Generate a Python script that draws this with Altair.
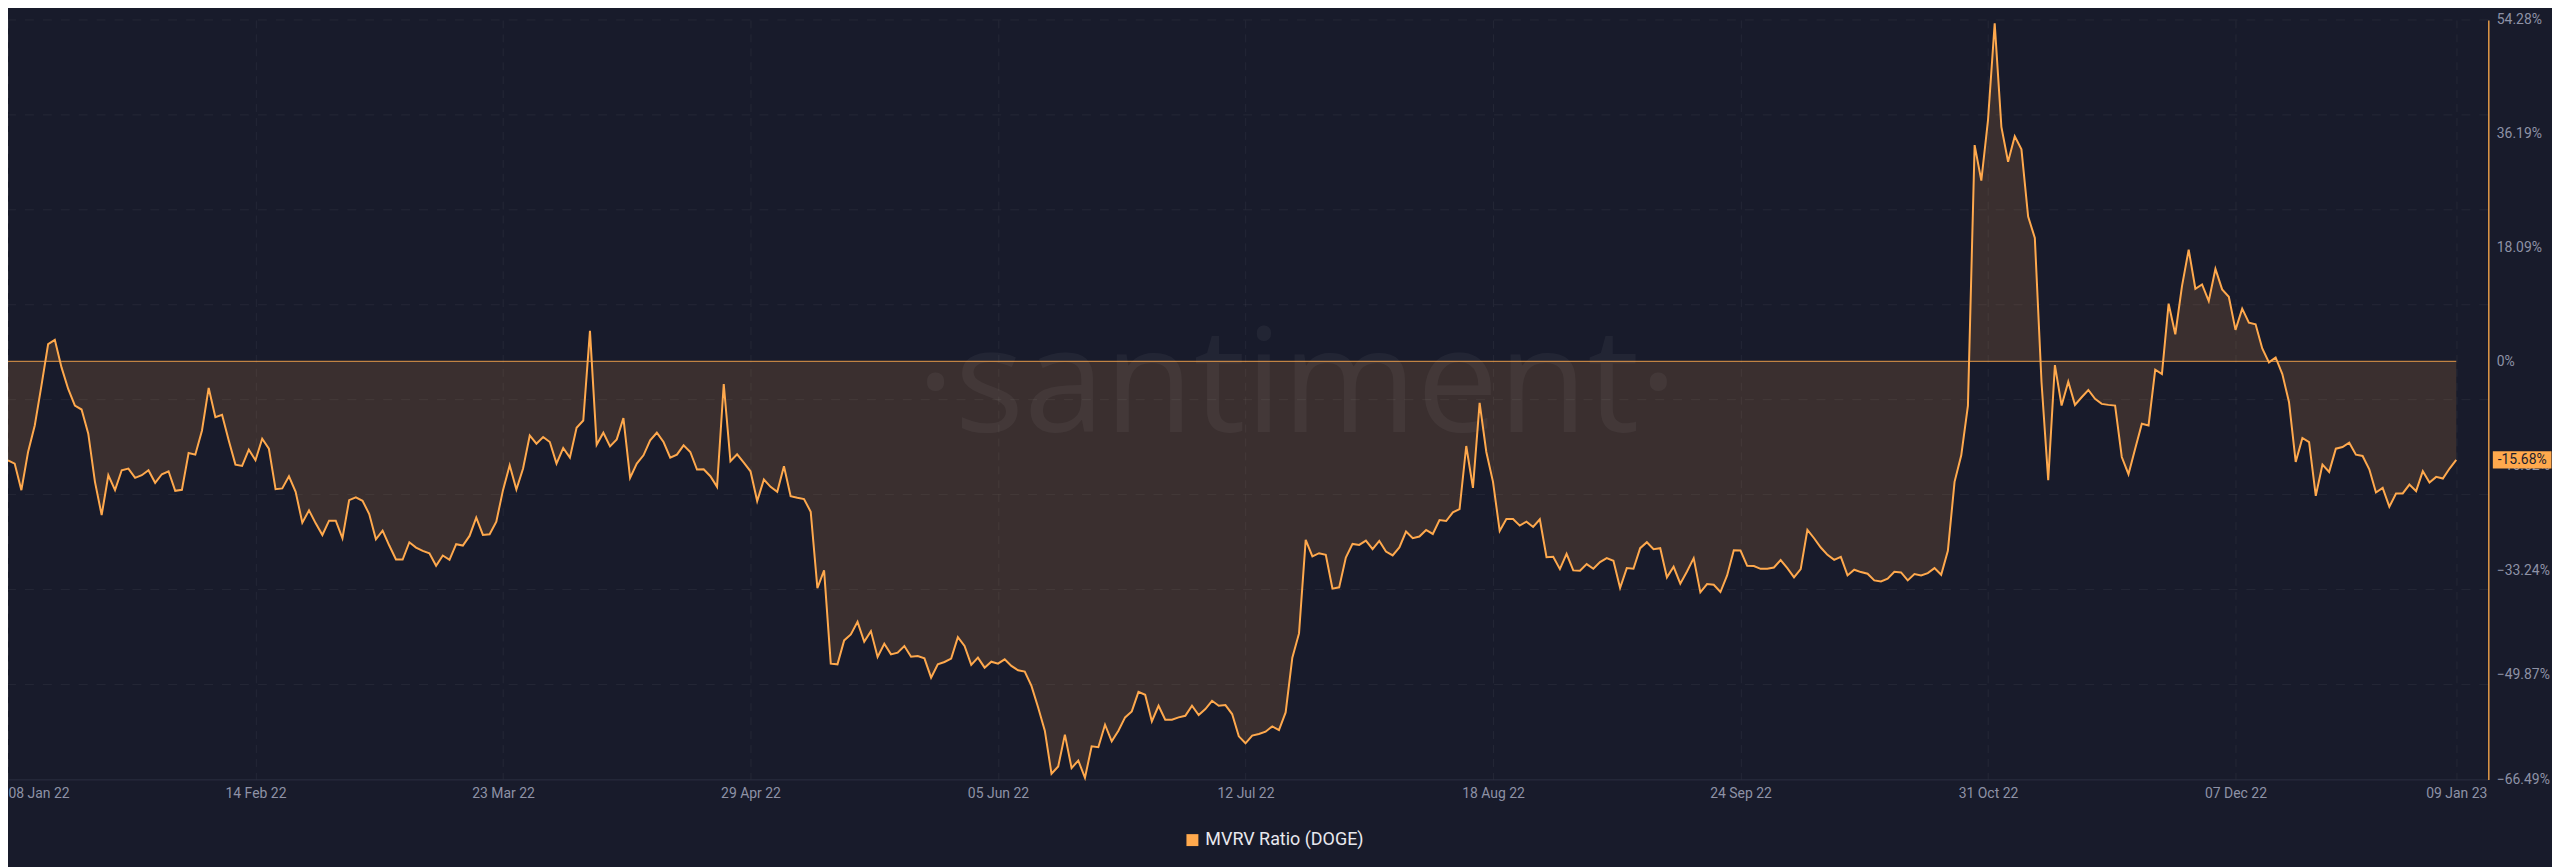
import altair as alt
import pandas as pd

# ---------------- data (daily values, %) ----------------
start_date = "2022-01-08"

jan_mar = [  # 08 Jan 22 .. 23 Mar 22
    -15.74, -16.27, -20.49, -14.42, -10.2, -3.87, 2.72, 3.41, -0.97, -4.4,
    -7.04, -7.67, -11.52, -19.17, -24.45, -18.12, -20.49, -17.33, -17.06, -18.54,
    -18.12, -17.33, -19.33, -17.96, -17.49, -20.6, -20.44, -14.58, -14.85, -11.0,
    -4.24, -8.89, -8.52, -12.58, -16.43, -16.64, -14.06, -15.74, -12.31, -13.9,
    -20.33, -20.22, -18.28, -20.76, -25.66, -23.71, -25.77, -27.62, -25.34, -25.34,
    -28.14, -22.08, -21.65, -22.18, -24.29, -28.3, -26.93, -29.3, -31.52, -31.52,
    -28.78, -29.62, -30.15, -30.52, -32.52, -30.89, -31.57, -29.09, -29.3, -27.77,
    -24.87, -27.62, -27.51, -25.5, -20.49,
]
mar_jun = [  # 24 Mar 22 .. 09 Jun 22
    -16.53, -20.39, -17.06, -11.79, -13.11, -12.05, -12.84, -16.27, -13.79, -15.32,
    -10.57, -9.41, 4.83, -13.26, -11.36, -13.53, -12.42, -9.04, -18.53, -16.27,
    -14.95, -12.58, -11.36, -12.84, -15.32, -14.85, -13.37, -14.42, -17.22, -17.17,
    -18.28, -19.96, -3.61, -15.9, -14.79, -16.11, -17.49, -22.23, -18.8, -19.96,
    -20.75, -16.69, -21.44, -21.7, -21.92, -23.92, -36.06, -33.25, -48.09, -48.19,
    -44.39, -43.44, -41.44, -44.6, -42.91, -47.02, -44.92, -46.61, -46.34, -45.28,
    -46.98, -46.87, -47.24, -50.3, -48.19, -47.82, -47.29, -43.86, -45.28, -48.29,
    -47.13, -48.72, -47.77, -48.09, -47.4, -48.45, -49.14, -49.35,
]
jun_aug = [  # 10 Jun 22 .. 22 Aug 22
    -51.62, -55.05, -58.74, -65.6, -64.44, -59.37, -64.7, -63.49, -66.23, -61.22,
    -61.38, -57.79, -60.43, -58.74, -56.63, -55.68, -52.57, -53.04, -57.26, -54.78,
    -57.0, -57.0, -56.63, -56.37, -54.78, -56.26, -55.31, -53.99, -54.78, -54.67,
    -56.1, -59.64, -60.75, -59.53, -59.27, -58.9, -58.06, -58.64, -55.84, -47.13,
    -43.28, -28.41, -31.04, -30.52, -30.78, -36.16, -35.95, -31.2, -29.04, -29.2,
    -28.51, -29.88, -28.56, -30.25, -30.88, -29.61, -27.08, -28.14, -27.87, -26.82,
    -27.46, -25.24, -25.4, -24.03, -23.5, -13.47, -20.12, -6.62, -14.42, -19.17,
    -26.98, -25.08, -25.08, -26.13,
]
aug_oct = [  # 23 Aug 22 .. 28 Oct 22
    -25.5, -26.35, -25.13, -31.15, -31.1, -33.05, -30.62, -33.25, -33.3, -32.26,
    -33.0, -31.94, -31.31, -31.73, -36.06, -32.89, -33.0, -29.72, -28.77, -29.88,
    -29.72, -34.36, -32.68, -35.37, -33.42, -31.31, -36.74, -35.42, -35.53, -36.69,
    -34.05, -30.04, -30.1, -32.52, -32.57, -33.0, -33.0, -32.79, -31.62, -32.89,
    -34.36, -33.05, -26.82, -28.14, -29.62, -30.78, -31.57, -31.1, -34.05, -33.15,
    -33.52, -33.79, -34.84, -35.0, -34.58, -33.47, -33.58, -34.84, -33.84, -34.05,
    -33.68, -32.89, -33.95, -30.15, -19.17, -14.95, -7.04,
]
oct_jan = [  # 29 Oct 22 .. 09 Jan 23
    34.38, 28.73, 38.34, 53.74, 37.28, 31.74, 35.8, 33.7, 23.03, 19.61,
    -3.34, -18.91, -0.6, -7.04, -3.24, -6.93, -5.72, -4.56, -5.98, -6.77,
    -6.93, -7.04, -15.22, -17.96, -13.9, -9.94, -10.2, -1.34, -2.03, 9.16,
    4.3, 11.95, 17.76, 11.53, 12.22, 9.58, 14.7, 11.43, 10.27, 4.99,
    8.37, 6.15, 5.89, 2.04, -0.18, 0.61, -2.03, -6.51, -16.0, -12.2,
    -12.84, -21.39, -16.43, -17.59, -13.9, -13.63, -12.95, -14.85, -15.06, -17.17,
    -20.86, -20.12, -23.13, -21.02, -21.02, -19.6, -20.65, -17.48, -19.28, -18.38,
    -18.65, -17.06, -15.68,
]

y_tick_values = [54.28, 36.19, 18.09, 0, -16.62, -33.24, -49.87, -66.49]
y_grid_values = [54.28, 39.18, 24.09, 8.99, -6.10, -21.20, -36.30, -51.39]
x_tick_dates = [(2022, 1, 8), (2022, 2, 14), (2022, 3, 23), (2022, 4, 29), (2022, 6, 5),
                (2022, 7, 12), (2022, 8, 18), (2022, 9, 24), (2022, 10, 31),
                (2022, 12, 7), (2023, 1, 9)]
last_value = [-15.68]
last_label = ["-15.68%"]
series_name = ["MVRV Ratio (DOGE)"]
watermark = ["\u00b7santiment\u00b7"]

# ---------------- build table ----------------
values = jan_mar + mar_jun + jun_aug + aug_oct + oct_jan
dates = pd.date_range(start_date, periods=len(values), freq="D")
df = pd.DataFrame({"date": dates.strftime("%Y-%m-%dT00:00:00Z"), "mvrv": values})

ORANGE = "#ffa94d"
BG = "#181b2b"
LABEL = "#8e92a6"
FONT = "Roboto"
W, H = 2492, 763

xscale = alt.Scale(type="utc", domain=[
    alt.DateTime(year=2022, month=1, date=8, utc=True),
    alt.DateTime(year=2023, month=1, date=13, hours=19, utc=True)])
yscale = alt.Scale(domain=[-66.49, 54.28], nice=False, zero=False)

xaxis = alt.Axis(
    values=[alt.DateTime(year=y, month=m, date=d, utc=True) for (y, m, d) in x_tick_dates],
    labelExpr="utcFormat(datum.value, '%d %b %y')",
    labelColor=LABEL, labelFontSize=14, labelFont=FONT,
    labelPadding=7, ticks=False, domain=True, domainColor="#2b2f42", domainWidth=1,
    grid=True, gridColor="#ffffff", gridOpacity=0.06, gridDash=[8, 6], labelFlush=True,
    labelOverlap=False, title=None)
yaxis = alt.Axis(
    orient="right", values=y_tick_values,
    labelExpr="datum.value == 0 ? '0%' : format(datum.value, '.2f') + '%'",
    labelColor=LABEL, labelFontSize=14, labelFont=FONT, labelPadding=8, ticks=False,
    domain=True, domainColor="#e39a48", domainWidth=1.5, grid=False, labelOverlap=False,
    title=None)

X = alt.X("date:T", scale=xscale, axis=xaxis, title=None)


def Y(field):
    return alt.Y(field, type="quantitative", scale=yscale, axis=yaxis, title=None)


base = alt.Chart(df)

grid = alt.Chart(pd.DataFrame({"g": y_grid_values})).mark_rule(
    color="#ffffff", opacity=0.06, strokeDash=[9, 9], strokeWidth=1
).encode(y=Y("g"))

area = base.mark_area(color=ORANGE, opacity=0.15).encode(x=X, y=Y("mvrv"), y2=alt.datum(0))

zero = base.mark_line(color=ORANGE, opacity=0.7, strokeWidth=1.2).encode(x=X, y=alt.datum(0))

wm = alt.Chart(pd.DataFrame({"t": watermark})).mark_text(
    font="Open Sans", fontWeight=400, fontSize=146, color="#ffffff", opacity=0.045,
    align="center", baseline="alphabetic"
).encode(x=alt.value(1295), y=alt.value(414), text="t:N")

line = base.mark_line(color=ORANGE, strokeWidth=2).encode(x=X, y=Y("mvrv"))

box_df = pd.DataFrame({"v": last_value, "label": last_label})
box = alt.Chart(box_df).mark_point(
    shape="M-3.4,-1L3.4,-1L3.4,1L-3.4,1Z", size=300, filled=True, color=ORANGE, opacity=1,
    strokeWidth=0
).encode(x=alt.value(2526), y=Y("v"))
box_text = alt.Chart(box_df).mark_text(
    font=FONT, fontSize=14, color="#1a1d2e", align="center", baseline="middle"
).encode(x=alt.value(2526), y=Y("v"), text="label:N")

leg_df = pd.DataFrame({"name": series_name})
leg_sq = alt.Chart(leg_df).mark_square(size=144, color=ORANGE, opacity=1).encode(
    x=alt.value(1190), y=alt.value(824))
leg_tx = alt.Chart(leg_df).mark_text(
    font=FONT, fontSize=18, color="#e8e8ee", align="left", baseline="middle"
).encode(x=alt.value(1203), y=alt.value(824), text="name:N")

chart = alt.layer(grid, area, wm, zero, line, box, box_text, leg_sq, leg_tx).properties(
    width=W, height=H,
    padding={"left": 0, "top": 10, "right": 64, "bottom": 87},
    autosize=alt.AutoSizeParams(type="none"),
    background=BG,
    usermeta={"embedOptions": {"defaultStyle": "body{margin:0;background:#181b2b;overflow:hidden}"}},
).configure_view(stroke=None)

chart.save("out.html", embed_options={"renderer": "svg", "actions": False})
